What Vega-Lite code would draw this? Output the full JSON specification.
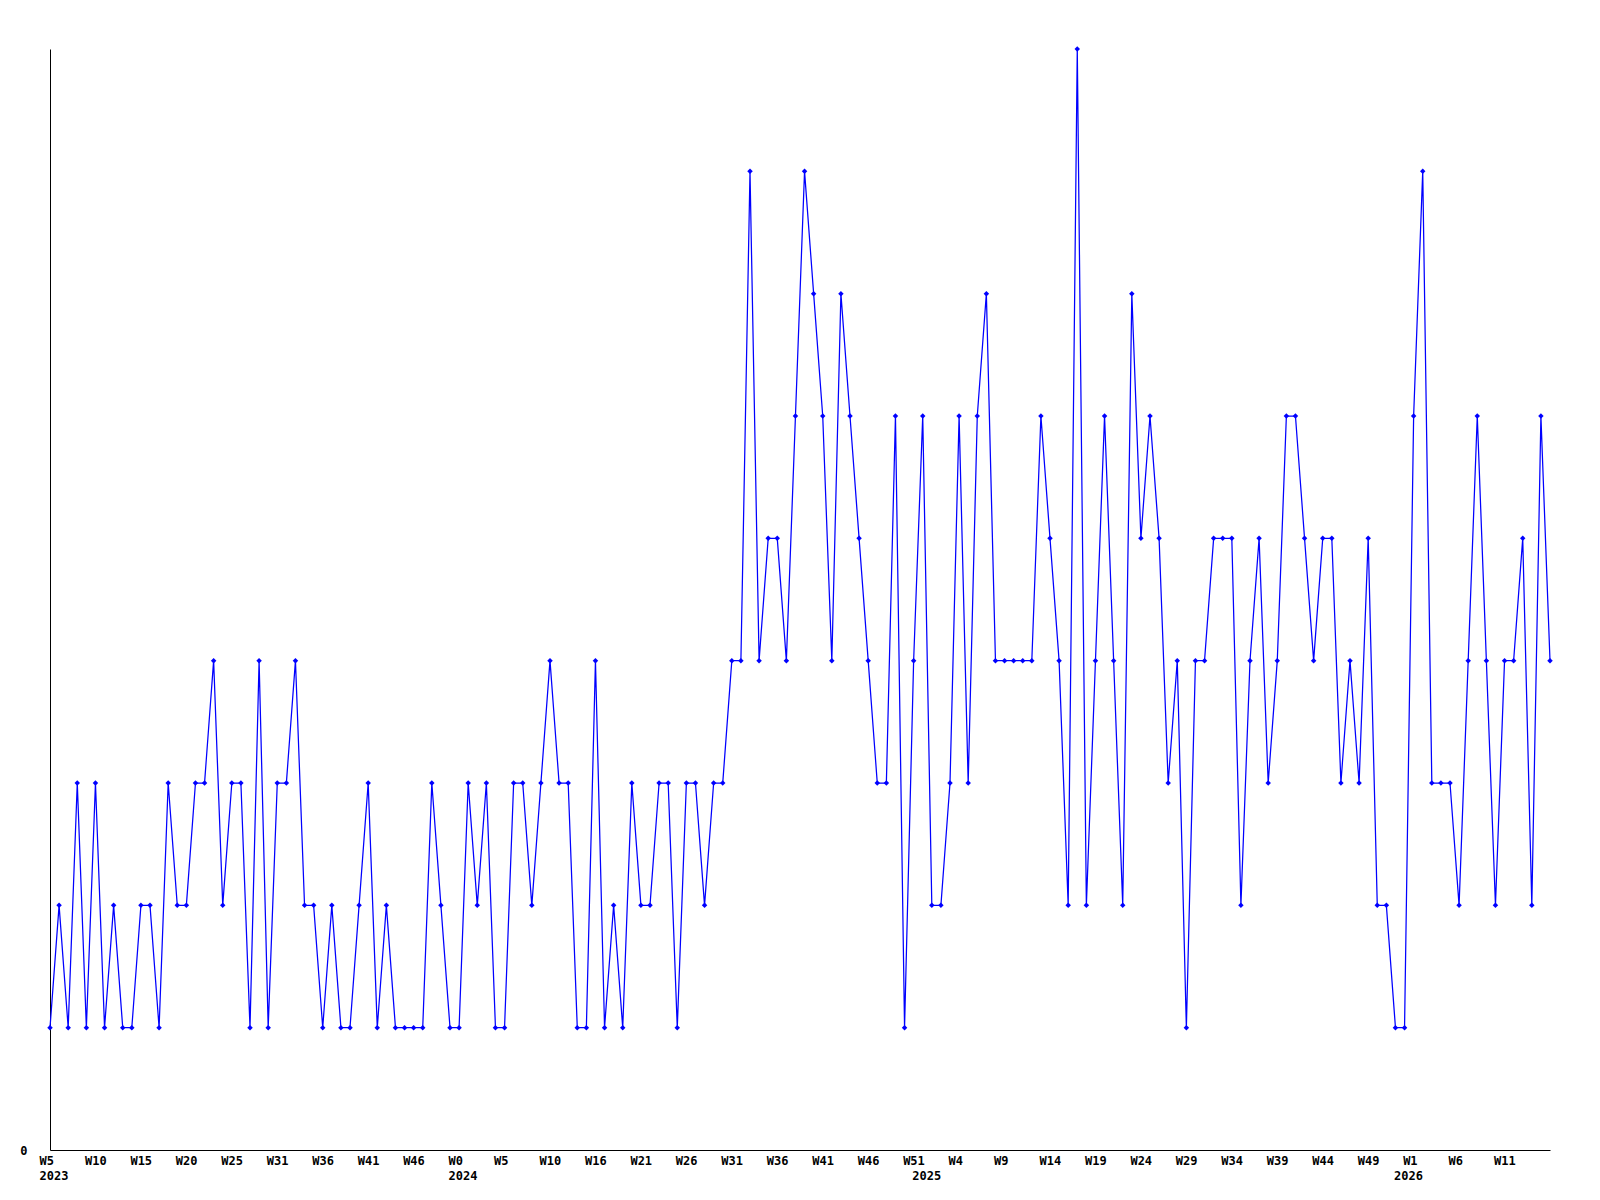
{
"$schema": "https://vega.github.io/schema/vega-lite/v6.json",
"width": 1500,
"height": 1101,
"autosize": {"type": "none"},
"padding": {"left": 50, "top": 49, "right": 50, "bottom": 50},
"background": "white",
"config": {
  "view": {"stroke": null},
  "axis": {"labelFont": "DejaVu Sans Mono", "labelFontWeight": "bold", "labelFontSize": 12, "labelColor": "black", "domainColor": "black", "domainWidth": 1, "grid": false, "ticks": false, "tickSize": 0, "title": null, "labelFlush": false, "labelOverlap": false, "labelBound": false}
},
"data": {"values": [
{"i":0,"week":"2023 W5","count":1},{"i":1,"week":"2023 W6","count":2},{"i":2,"week":"2023 W7","count":1},{"i":3,"week":"2023 W8","count":3},{"i":4,"week":"2023 W9","count":1},{"i":5,"week":"2023 W10","count":3},{"i":6,"week":"2023 W11","count":1},{"i":7,"week":"2023 W12","count":2},{"i":8,"week":"2023 W13","count":1},{"i":9,"week":"2023 W14","count":1},{"i":10,"week":"2023 W15","count":2},{"i":11,"week":"2023 W16","count":2},{"i":12,"week":"2023 W17","count":1},{"i":13,"week":"2023 W18","count":3},{"i":14,"week":"2023 W19","count":2},{"i":15,"week":"2023 W20","count":2},{"i":16,"week":"2023 W21","count":3},{"i":17,"week":"2023 W22","count":3},{"i":18,"week":"2023 W23","count":4},{"i":19,"week":"2023 W24","count":2},{"i":20,"week":"2023 W25","count":3},{"i":21,"week":"2023 W26","count":3},{"i":22,"week":"2023 W27","count":1},{"i":23,"week":"2023 W28","count":4},{"i":24,"week":"2023 W29","count":1},
{"i":25,"week":"2023 W31","count":3},{"i":26,"week":"2023 W32","count":3},{"i":27,"week":"2023 W33","count":4},{"i":28,"week":"2023 W34","count":2},{"i":29,"week":"2023 W35","count":2},{"i":30,"week":"2023 W36","count":1},{"i":31,"week":"2023 W37","count":2},{"i":32,"week":"2023 W38","count":1},{"i":33,"week":"2023 W39","count":1},{"i":34,"week":"2023 W40","count":2},{"i":35,"week":"2023 W41","count":3},{"i":36,"week":"2023 W42","count":1},{"i":37,"week":"2023 W43","count":2},{"i":38,"week":"2023 W44","count":1},{"i":39,"week":"2023 W45","count":1},{"i":40,"week":"2023 W46","count":1},{"i":41,"week":"2023 W47","count":1},{"i":42,"week":"2023 W48","count":3},{"i":43,"week":"2023 W49","count":2},{"i":44,"week":"2023 W50","count":1},
{"i":45,"week":"2024 W0","count":1},{"i":46,"week":"2024 W1","count":3},{"i":47,"week":"2024 W2","count":2},{"i":48,"week":"2024 W3","count":3},{"i":49,"week":"2024 W4","count":1},{"i":50,"week":"2024 W5","count":1},{"i":51,"week":"2024 W6","count":3},{"i":52,"week":"2024 W7","count":3},{"i":53,"week":"2024 W8","count":2},{"i":54,"week":"2024 W9","count":3},{"i":55,"week":"2024 W10","count":4},{"i":56,"week":"2024 W11","count":3},{"i":57,"week":"2024 W12","count":3},{"i":58,"week":"2024 W13","count":1},{"i":59,"week":"2024 W14","count":1},
{"i":60,"week":"2024 W16","count":4},{"i":61,"week":"2024 W17","count":1},{"i":62,"week":"2024 W18","count":2},{"i":63,"week":"2024 W19","count":1},{"i":64,"week":"2024 W20","count":3},{"i":65,"week":"2024 W21","count":2},{"i":66,"week":"2024 W22","count":2},{"i":67,"week":"2024 W23","count":3},{"i":68,"week":"2024 W24","count":3},{"i":69,"week":"2024 W25","count":1},{"i":70,"week":"2024 W26","count":3},{"i":71,"week":"2024 W27","count":3},{"i":72,"week":"2024 W28","count":2},{"i":73,"week":"2024 W29","count":3},{"i":74,"week":"2024 W30","count":3},{"i":75,"week":"2024 W31","count":4},{"i":76,"week":"2024 W32","count":4},{"i":77,"week":"2024 W33","count":8},{"i":78,"week":"2024 W34","count":4},{"i":79,"week":"2024 W35","count":5},{"i":80,"week":"2024 W36","count":5},{"i":81,"week":"2024 W37","count":4},{"i":82,"week":"2024 W38","count":6},{"i":83,"week":"2024 W39","count":8},{"i":84,"week":"2024 W40","count":7},{"i":85,"week":"2024 W41","count":6},{"i":86,"week":"2024 W42","count":4},{"i":87,"week":"2024 W43","count":7},{"i":88,"week":"2024 W44","count":6},{"i":89,"week":"2024 W45","count":5},{"i":90,"week":"2024 W46","count":4},{"i":91,"week":"2024 W47","count":3},{"i":92,"week":"2024 W48","count":3},{"i":93,"week":"2024 W49","count":6},{"i":94,"week":"2024 W50","count":1},{"i":95,"week":"2024 W51","count":4},
{"i":96,"week":"2025 W0","count":6},{"i":97,"week":"2025 W1","count":2},{"i":98,"week":"2025 W2","count":2},{"i":99,"week":"2025 W3","count":3},{"i":100,"week":"2025 W4","count":6},{"i":101,"week":"2025 W5","count":3},{"i":102,"week":"2025 W6","count":6},{"i":103,"week":"2025 W7","count":7},{"i":104,"week":"2025 W8","count":4},{"i":105,"week":"2025 W9","count":4},{"i":106,"week":"2025 W10","count":4},{"i":107,"week":"2025 W11","count":4},{"i":108,"week":"2025 W12","count":4},{"i":109,"week":"2025 W13","count":6},{"i":110,"week":"2025 W14","count":5},{"i":111,"week":"2025 W15","count":4},{"i":112,"week":"2025 W16","count":2},{"i":113,"week":"2025 W17","count":9},{"i":114,"week":"2025 W18","count":2},{"i":115,"week":"2025 W19","count":4},{"i":116,"week":"2025 W20","count":6},{"i":117,"week":"2025 W21","count":4},{"i":118,"week":"2025 W22","count":2},{"i":119,"week":"2025 W23","count":7},{"i":120,"week":"2025 W24","count":5},{"i":121,"week":"2025 W25","count":6},{"i":122,"week":"2025 W26","count":5},{"i":123,"week":"2025 W27","count":3},{"i":124,"week":"2025 W28","count":4},{"i":125,"week":"2025 W29","count":1},{"i":126,"week":"2025 W30","count":4},{"i":127,"week":"2025 W31","count":4},{"i":128,"week":"2025 W32","count":5},{"i":129,"week":"2025 W33","count":5},{"i":130,"week":"2025 W34","count":5},{"i":131,"week":"2025 W35","count":2},{"i":132,"week":"2025 W36","count":4},{"i":133,"week":"2025 W37","count":5},{"i":134,"week":"2025 W38","count":3},{"i":135,"week":"2025 W39","count":4},{"i":136,"week":"2025 W40","count":6},{"i":137,"week":"2025 W41","count":6},{"i":138,"week":"2025 W42","count":5},{"i":139,"week":"2025 W43","count":4},{"i":140,"week":"2025 W44","count":5},{"i":141,"week":"2025 W45","count":5},{"i":142,"week":"2025 W46","count":3},{"i":143,"week":"2025 W47","count":4},{"i":144,"week":"2025 W48","count":3},{"i":145,"week":"2025 W49","count":5},{"i":146,"week":"2025 W50","count":2},{"i":147,"week":"2025 W51","count":2},{"i":148,"week":"2025 W52","count":1},
{"i":149,"week":"2026 W0","count":1},{"i":150,"week":"2026 W1","count":6},{"i":151,"week":"2026 W2","count":8},{"i":152,"week":"2026 W3","count":3},{"i":153,"week":"2026 W4","count":3},{"i":154,"week":"2026 W5","count":3},{"i":155,"week":"2026 W6","count":2},{"i":156,"week":"2026 W7","count":4},{"i":157,"week":"2026 W8","count":6},{"i":158,"week":"2026 W9","count":4},{"i":159,"week":"2026 W10","count":2},{"i":160,"week":"2026 W11","count":4},{"i":161,"week":"2026 W12","count":4},{"i":162,"week":"2026 W13","count":5},{"i":163,"week":"2026 W14","count":2},{"i":164,"week":"2026 W15","count":6},{"i":165,"week":"2026 W16","count":4}
]},
"encoding": {
  "y": {"field": "count", "type": "quantitative", "scale": {"domain": [0, 9], "nice": false, "zero": true}, "axis": {"values": [0], "labelPadding": 23, "domain": true, "labelBaseline": "middle"}}
},
"layer": [
  {
    "mark": {"type": "line", "color": "#0000ff", "strokeWidth": 1.25},
    "encoding": {
      "x": {"field": "i", "type": "quantitative", "scale": {"domain": [0, 165], "nice": false, "zero": false},
        "axis": {"orient": "bottom", "labelAngle": 0, "labelPadding": 5, "domain": true, "labelFlush": false, "labelOverlap": false, "labelBound": false, "labelAlign": "left", "labelOffset": -11,
          "values": [0,5,10,15,20,25,30,35,40,45,50,55,60,65,70,75,80,85,90,95,100,105,110,115,120,125,130,135,140,145,150,155,160],
          "labelExpr": "['W5','W10','W15','W20','W25','W31','W36','W41','W46','W0','W5','W10','W16','W21','W26','W31','W36','W41','W46','W51','W4','W9','W14','W19','W24','W29','W34','W39','W44','W49','W1','W6','W11'][round(datum.value / 5)]"}}
    }
  },
  {
    "mark": {"type": "point", "shape": "diamond", "filled": true, "color": "#0000ff", "size": 30, "opacity": 1},
    "encoding": {
      "x": {"field": "i", "type": "quantitative", "scale": {"domain": [0, 165], "nice": false, "zero": false},
        "axis": {"orient": "bottom", "labelAngle": 0, "offset": 15, "labelPadding": 5, "domain": false, "labelFlush": false, "labelOverlap": false, "labelBound": false, "labelAlign": "left", "labelOffset": -11,
          "values": [0, 45, 96, 149],
          "labelExpr": "datum.value == 0 ? '2023' : datum.value == 45 ? '2024' : datum.value == 96 ? '2025' : '2026'"}}
    }
  }
],
"resolve": {"axis": {"x": "independent"}}
}
